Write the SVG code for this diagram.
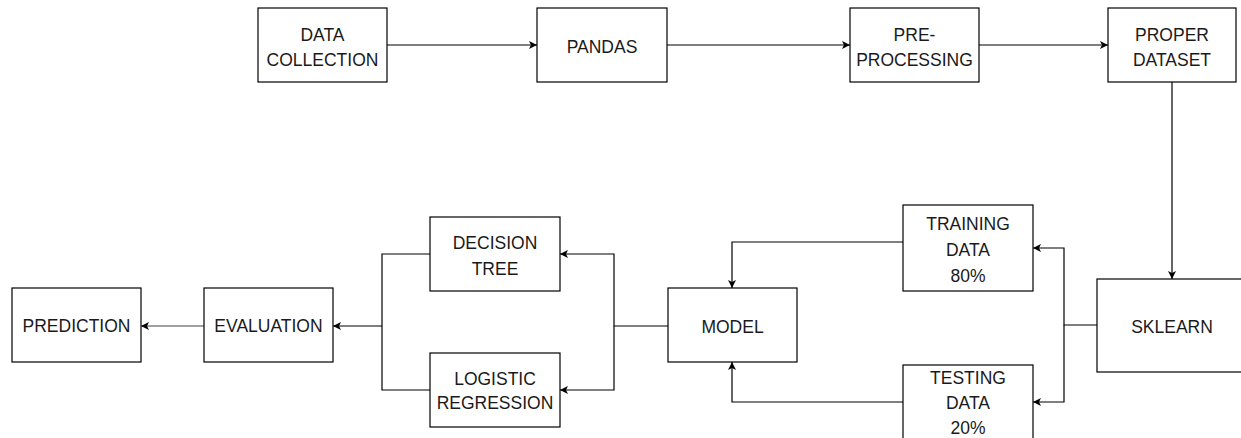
<svg xmlns="http://www.w3.org/2000/svg" width="1241" height="438" viewBox="0 0 1241 438">
<defs>
<style>
.box{fill:#fff;stroke:#000;stroke-width:1.2}
.t{font-family:"Liberation Sans",Arial,Helvetica,sans-serif;font-size:17.5px;fill:#1a1a1a;text-anchor:middle}
.c{fill:none;stroke:#000;stroke-width:1.2}
.g{fill:none;stroke:#808080;stroke-width:1.5}
</style>
<marker id="ah" markerWidth="10" markerHeight="10" refX="8" refY="4" orient="auto" markerUnits="userSpaceOnUse">
<path d="M0,0 L8,4 L0,8 L2,4 z" fill="#000"/>
</marker>
</defs>
<rect width="1241" height="438" fill="#fff"/>
<g id="connectors">
<path class="c" d="M387,45 H537" marker-end="url(#ah)"/>
<path class="c" d="M667,45 H850" marker-end="url(#ah)"/>
<path class="c" d="M979,45 H1108" marker-end="url(#ah)"/>
<path class="c" d="M1172,82 V279" marker-end="url(#ah)"/>
<path class="c" d="M1097,325 H1064 V248 H1033" marker-end="url(#ah)"/>
<path class="c" d="M1064,325 V402 H1033" marker-end="url(#ah)"/>
<path class="c" d="M903,242 H732 V288" marker-end="url(#ah)"/>
<path class="c" d="M903,402 H732 V362" marker-end="url(#ah)"/>
<path class="c" d="M668,326 H614 V254 H560" marker-end="url(#ah)"/>
<path class="c" d="M614,326 V390 H560" marker-end="url(#ah)"/>
<path class="c" d="M430,254 H382 V390 H430"/>
<path class="c" d="M382,326 H333" stroke-width="1.6" marker-end="url(#ah)"/>
<path class="g" d="M204,326 H141" marker-end="url(#ah)"/>
</g>
<g id="data-collection"><rect class="box" x="258" y="8" width="129" height="74"/><text class="t" x="322.5" y="41">DATA</text><text class="t" x="322.5" y="66">COLLECTION</text></g>
<g id="pandas"><rect class="box" x="537" y="8" width="130" height="74"/><text class="t" x="602" y="53">PANDAS</text></g>
<g id="pre-processing"><rect class="box" x="850" y="8" width="129" height="74"/><text class="t" x="914.5" y="41">PRE-</text><text class="t" x="914.5" y="66">PROCESSING</text></g>
<g id="proper-dataset"><rect class="box" x="1108" y="8" width="128" height="74"/><text class="t" x="1172" y="41">PROPER</text><text class="t" x="1172" y="66">DATASET</text></g>
<g id="sklearn"><rect class="box" x="1097" y="279" width="150" height="93"/><text class="t" x="1172" y="333">SKLEARN</text></g>
<g id="training-data"><rect class="box" x="903" y="205" width="130" height="86"/><text class="t" x="968" y="230">TRAINING</text><text class="t" x="968" y="256">DATA</text><text class="t" x="968" y="282">80%</text></g>
<g id="testing-data"><rect class="box" x="903" y="365" width="130" height="86"/><text class="t" x="968" y="384">TESTING</text><text class="t" x="968" y="409">DATA</text><text class="t" x="968" y="434">20%</text></g>
<g id="model"><rect class="box" x="668" y="288" width="129" height="74"/><text class="t" x="732.5" y="333">MODEL</text></g>
<g id="decision-tree"><rect class="box" x="430" y="217" width="130" height="74"/><text class="t" x="495" y="249">DECISION</text><text class="t" x="495" y="275">TREE</text></g>
<g id="logistic-regression"><rect class="box" x="430" y="353" width="130" height="74"/><text class="t" x="495" y="385">LOGISTIC</text><text class="t" x="495" y="409">REGRESSION</text></g>
<g id="evaluation"><rect class="box" x="204" y="288" width="129" height="74"/><text class="t" x="268.5" y="332">EVALUATION</text></g>
<g id="prediction"><rect class="box" x="12" y="288" width="129" height="74"/><text class="t" x="76.5" y="332">PREDICTION</text></g>
</svg>
